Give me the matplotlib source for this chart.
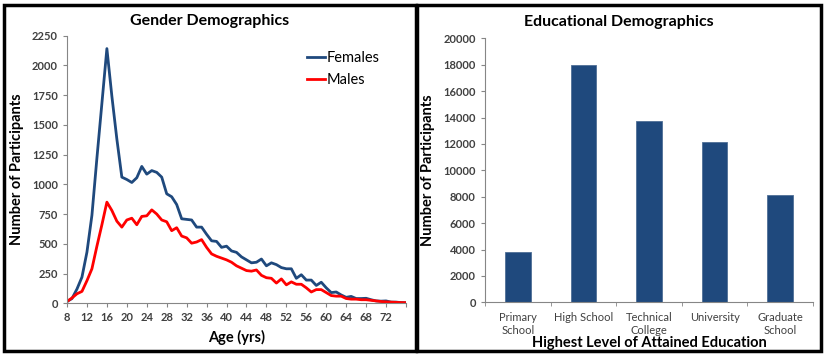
"""
Gender and educational demographics of participants (two panel figure).
"""
import numpy as np
import matplotlib
matplotlib.use('Agg')
import matplotlib.pyplot as plt
from matplotlib.patches import Rectangle

plt.rcParams['font.family'] = ['Lato', 'DejaVu Sans']

# Gender demographics: participants per year of age
ages = list(range(8, 77))
females = [15, 40, 120, 220, 430, 740, 1220, 1680, 2140, 1740, 1380, 1060, 1040, 1015, 1055, 1150,
           1085, 1115, 1100, 1060, 920, 895, 830, 710, 705, 700, 640, 640, 580, 525,
           520, 470, 480, 440, 428, 390, 365, 340, 345, 372, 315, 340, 325, 300,
           290, 290, 210, 240, 195, 195, 150, 177, 130, 90, 95, 70, 50, 58,
           40, 40, 42, 30, 20, 18, 20, 10, 10, 6, 5]
males = [15, 45, 80, 100, 190, 290, 480, 660, 850, 780, 690, 640, 700, 715, 660, 730,
         735, 785, 750, 700, 685, 610, 635, 565, 550, 505, 515, 535, 470, 415,
         395, 380, 365, 345, 315, 295, 275, 270, 280, 235, 215, 210, 170, 205,
         155, 180, 160, 160, 130, 95, 115, 115, 90, 65, 60, 60, 40, 35,
         35, 30, 30, 25, 20, 15, 12, 10, 8, 6, 5]
age_ticks = list(range(8, 77, 4))
age_ticklabels = [str(a) for a in age_ticks[:-1]] + ['']

# Educational demographics
edu_levels = ['Primary\nSchool', 'High School', 'Technical\nCollege', 'University', 'Graduate\nSchool']
edu_counts = [3800, 18000, 13700, 12150, 8150]

W, H = 827, 358
fig = plt.figure(figsize=(W / 100, H / 100), dpi=100)

blue = '#1F497D'
red = '#FF0000'
axis_grey = '#868686'
tick_col = '#404040'


def px_axes(left, top, right, bottom):
    return fig.add_axes([left / W, 1 - bottom / H, (right - left) / W, (bottom - top) / H])


def style_axes(ax):
    for s in ['top', 'right']:
        ax.spines[s].set_visible(False)
    for s in ['left', 'bottom']:
        ax.spines[s].set_color(axis_grey)
        ax.spines[s].set_linewidth(0.8)
    ax.tick_params(axis='both', colors=axis_grey, labelcolor=tick_col, labelsize=8,
                   length=3, width=0.8, direction='out')
    for lab in ax.get_xticklabels() + ax.get_yticklabels():
        lab.set_fontweight('bold')


# Left panel
ax1 = px_axes(67, 35.5, 406, 303.3)
ax1.plot(ages, females, color=blue, linewidth=2, label='Females')
ax1.plot(ages, males, color=red, linewidth=2, label='Males')
ax1.set_xlim(8, 76)
ax1.set_ylim(0, 2250)
ax1.set_yticks(np.arange(0, 2251, 250))
ax1.set_xticks(age_ticks)
ax1.set_xticklabels(age_ticklabels)
style_axes(ax1)
ax1.set_xlabel('Age (yrs)', fontsize=10.5, fontweight='bold', labelpad=5)
ax1.set_ylabel('Number of Participants', fontsize=10.5, fontweight='bold', labelpad=6)
ax1.legend(loc='upper left', bbox_to_anchor=(0.67, 0.99), frameon=False, fontsize=10.5,
           handlelength=1.2, handletextpad=0.1, labelspacing=0.55)
fig.text(210 / W, 1 - 21 / H, 'Gender Demographics', ha='center', va='center',
         fontsize=11.5, fontweight='bold')

# Right panel
ax2 = px_axes(485, 38.3, 813, 302.3)
x = np.arange(len(edu_levels))
ax2.bar(x, edu_counts, width=0.39, color=blue, edgecolor='#4F6F96', linewidth=0.6)
ax2.set_xlim(-0.5, len(edu_levels) - 0.5)
ax2.set_ylim(0, 20000)
ax2.set_yticks(np.arange(0, 20001, 2000))
ax2.set_xticks(x)
ax2.set_xticklabels(edu_levels, linespacing=1.25)
style_axes(ax2)
ax2.tick_params(axis='x', length=0, pad=7)
for lab in ax2.get_xticklabels():
    lab.set_fontweight('normal')
ax2.set_xticks(np.arange(-0.5, len(edu_levels), 1), minor=True)
ax2.tick_params(axis='x', which='minor', length=3, color=axis_grey)
ax2.set_xlabel('Highest Level of Attained Education', fontsize=10.5, fontweight='bold', va='center')
ax2.xaxis.set_label_coords(0.5, (302.3 - 343.0) / 264.0)
ax2.set_ylabel('Number of Participants', fontsize=10.5, fontweight='bold', labelpad=6)
fig.text(619 / W, 1 - 22 / H, 'Educational Demographics', ha='center', va='center',
         fontsize=11.5, fontweight='bold')

# Panel borders
for (l, t, r, b) in [(4, 5, 416, 351), (417, 5, 820.5, 351)]:
    fig.add_artist(Rectangle((l / W, 1 - b / H), (r - l) / W, (b - t) / H,
                             transform=fig.transFigure, fill=False,
                             edgecolor='black', linewidth=2.5))

fig.savefig('out.png', dpi=100)
